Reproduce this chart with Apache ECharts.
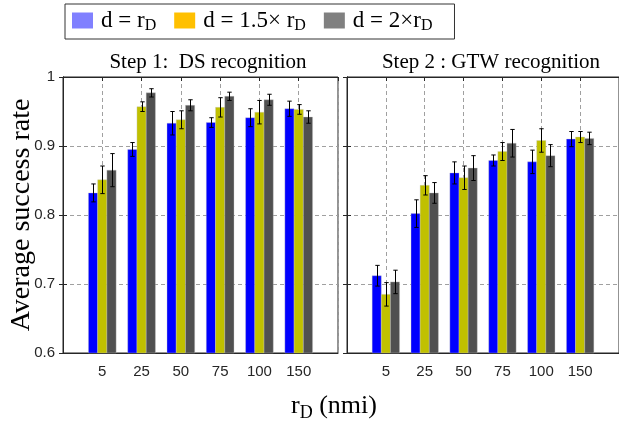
<!DOCTYPE html>
<html>
<head>
<meta charset="utf-8">
<script src="https://cdn.jsdelivr.net/npm/echarts@6/dist/echarts.min.js"></script>
<style>html,body{margin:0;padding:0;background:#fff}#c{width:619px;height:429px}</style>
</head>
<body>
<div id="c"></div>
<script>
// ---- data ----
var categories = ['5', '25', '50', '75', '100', '150'];
var yTicks = [0.6, 0.7, 0.8, 0.9, 1];
var panelTitles = ['Step 1:  DS recognition', 'Step 2 : GTW recognition'];
var seriesNames = ['d = r_D', 'd = 1.5× r_D', 'd = 2×r_D'];

var step1_d1 = [0.832, 0.895, 0.933, 0.934, 0.941, 0.954];
var step1_d1_err = [0.013, 0.010, 0.017, 0.007, 0.013, 0.011];
var step1_d15 = [0.851, 0.957, 0.938, 0.956, 0.949, 0.953];
var step1_d15_err = [0.020, 0.007, 0.013, 0.014, 0.017, 0.007];
var step1_d2 = [0.865, 0.977, 0.959, 0.972, 0.967, 0.942];
var step1_d2_err = [0.024, 0.006, 0.008, 0.006, 0.008, 0.009];

var step2_d1 = [0.712, 0.802, 0.861, 0.879, 0.877, 0.910];
var step2_d1_err = [0.015, 0.020, 0.016, 0.008, 0.017, 0.011];
var step2_d15 = [0.685, 0.843, 0.854, 0.892, 0.908, 0.913];
var step2_d15_err = [0.017, 0.014, 0.017, 0.013, 0.017, 0.008];
var step2_d2 = [0.703, 0.832, 0.868, 0.904, 0.886, 0.911];
var step2_d2_err = [0.017, 0.015, 0.018, 0.020, 0.016, 0.009];

// ---- styles ----
var barColors = ['#0000ff', '#c0c000', '#505050'];
var legendColors = ['#8080ff', '#ffc000', '#808080'];
var offsets = [-0.235, 0, 0.235];
var barW = 0.235;
var axisCol = '#262626';

var chart = echarts.init(document.getElementById('c'), null, {renderer: 'canvas'});

function mkData(vals, errs) {
  return vals.map(function (v, i) { return [i + 1, v, errs[i]]; });
}

function renderFactory(k) {
  return function (params, api) {
    var x = api.value(0) + offsets[k];
    var v = api.value(1);
    var e = api.value(2);
    var base = api.coord([x, 0.6]);
    var top = api.coord([x, v]);
    var w = api.size([barW, 0])[0];
    var eTop = api.coord([x, v + e]);
    var eBot = api.coord([x, v - e]);
    var cap = 2.2;
    var cx = Math.round(top[0]) + 0.5;
    return {
      type: 'group',
      children: [
        {type: 'rect', shape: {x: top[0] - w / 2, y: top[1], width: w, height: base[1] - top[1]},
         style: {fill: barColors[k], stroke: 'rgba(200,200,200,0.6)', lineWidth: 0.6}},
        {type: 'line', shape: {x1: cx, y1: eTop[1], x2: cx, y2: eBot[1]}, style: {stroke: '#000', lineWidth: 1}, z2: 10},
        {type: 'line', shape: {x1: cx - cap, y1: eTop[1], x2: cx + cap, y2: eTop[1]}, style: {stroke: '#000', lineWidth: 1}, z2: 10},
        {type: 'line', shape: {x1: cx - cap, y1: eBot[1], x2: cx + cap, y2: eBot[1]}, style: {stroke: '#000', lineWidth: 1}, z2: 10}
      ]
    };
  };
}

var panels = [
  {grid: {left: 63, top: 77, width: 275, height: 276}, data: [[step1_d1, step1_d1_err], [step1_d15, step1_d15_err], [step1_d2, step1_d2_err]]},
  {grid: {left: 347, top: 77, width: 275, height: 276}, data: [[step2_d1, step2_d1_err], [step2_d15, step2_d15_err], [step2_d2, step2_d2_err]]}
];

var grids = [], xAxes = [], yAxes = [], series = [];
panels.forEach(function (p, gi) {
  grids.push(Object.assign({show: true, borderColor: axisCol, borderWidth: 1, backgroundColor: '#fff'}, p.grid));
  xAxes.push({
    type: 'value', gridIndex: gi, min: 0, max: 7, interval: 1, position: 'bottom',
    axisLine: {show: true, lineStyle: {color: axisCol}},
    axisTick: {show: true, inside: true, length: 4, lineStyle: {color: axisCol}},
    axisLabel: {show: true, showMinLabel: false, showMaxLabel: false, margin: 11, color: axisCol,
      fontFamily: 'Liberation Sans', fontSize: 15,
      formatter: function (v) { return (v >= 1 && v <= 6) ? categories[v - 1] : ''; }},
    splitLine: {show: true, lineStyle: {color: '#a0a0a0', type: [4, 3], width: 1}}
  });
  xAxes.push({
    type: 'value', gridIndex: gi, min: 0, max: 7, interval: 1, position: 'top',
    axisLine: {show: true, lineStyle: {color: axisCol}},
    axisTick: {show: true, inside: true, length: 4, lineStyle: {color: axisCol}},
    axisLabel: {show: false}, splitLine: {show: false}
  });
  yAxes.push({
    type: 'value', gridIndex: gi, min: 0.6, max: 1, interval: 0.1, position: 'left',
    axisLine: {show: true, lineStyle: {color: axisCol}},
    axisTick: {show: true, inside: true, length: 4, lineStyle: {color: axisCol}},
    axisLabel: {show: gi === 0, margin: 8, color: axisCol, fontFamily: 'Liberation Sans', fontSize: 15,
      formatter: function (v) { return Math.abs(v - 1) < 1e-9 ? '1' : v.toFixed(1); }},
    splitLine: {show: true, lineStyle: {color: '#a0a0a0', type: [4, 3], width: 1}}
  });
  yAxes.push({
    type: 'value', gridIndex: gi, min: 0.6, max: 1, interval: 0.1, position: 'right',
    axisLine: {show: true, lineStyle: {color: axisCol}},
    axisTick: {show: true, inside: true, length: 4, lineStyle: {color: axisCol}},
    axisLabel: {show: false}, splitLine: {show: false}
  });
  p.data.forEach(function (d, k) {
    series.push({
      type: 'custom', name: seriesNames[k], xAxisIndex: gi * 2, yAxisIndex: gi * 2,
      itemStyle: {color: barColors[k]},
      renderItem: renderFactory(k),
      encode: {x: 0, y: 1},
      data: mkData(d[0], d[1]),
      z: 3
    });
  });
});

function richName(n) {
  var parts = n.split('_');
  return '{m|' + parts[0] + '}{s|' + parts[1] + '}';
}

var option = {
  animation: false,
  backgroundColor: '#fff',
  grid: grids,
  xAxis: xAxes,
  yAxis: yAxes,
  series: series,
  legend: {
    left: 65, top: 4,
    orient: 'horizontal',
    icon: 'rect',
    itemWidth: 21, itemHeight: 16, itemGap: 18,
    padding: [5, 22, 5, 7],
    borderColor: '#333', borderWidth: 1,
    data: seriesNames.map(function (n, k) { return {name: n, itemStyle: {color: legendColors[k], borderColor: legendColors[k]}}; }),
    formatter: function (n) { return richName(n); },
    textStyle: {
      color: '#000', fontFamily: 'Liberation Serif', fontSize: 23, padding: [0, 0, 0, 3],
      rich: {
        m: {fontFamily: 'Liberation Serif', fontSize: 23, color: '#000', lineHeight: 27, verticalAlign: 'middle'},
        s: {fontFamily: 'Liberation Serif', fontSize: 16, color: '#000', lineHeight: 15, verticalAlign: 'bottom'}
      }
    }
  },
  graphic: [
    {type: 'text', x: 208, y: 62, style: {text: panelTitles[0], align: 'center', verticalAlign: 'middle', font: '21px "Liberation Serif"', fill: '#000'}},
    {type: 'text', x: 491, y: 62, style: {text: panelTitles[1], align: 'center', verticalAlign: 'middle', font: '21px "Liberation Serif"', fill: '#000'}},
    {type: 'text', x: 22, y: 215, rotation: Math.PI / 2, style: {text: 'Average success rate', align: 'center', verticalAlign: 'middle', font: '28px "Liberation Serif"', fill: '#000'}},
    {type: 'text', x: 334, y: 406, style: {
      text: '{m|r}{s|D}{m| (nmi)}', align: 'center', verticalAlign: 'middle',
      rich: {
        m: {fontFamily: 'Liberation Serif', fontSize: 26, fill: '#000', lineHeight: 32, verticalAlign: 'middle'},
        s: {fontFamily: 'Liberation Serif', fontSize: 18, fill: '#000', lineHeight: 18, verticalAlign: 'bottom'}
      }}}
  ]
};
chart.setOption(option);
</script>
</body>
</html>
